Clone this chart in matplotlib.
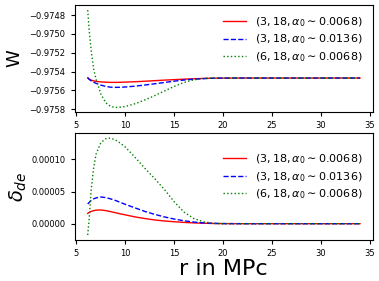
import numpy as np
import matplotlib
matplotlib.use("Agg")
import matplotlib.pyplot as plt

# radius grid (MPc)
r = [6.15, 6.3, 6.5, 6.75, 7.0, 7.5, 8.0, 8.5, 9.0, 9.5, 10, 11, 12, 13, 14,
     15, 16, 17, 18, 19, 20, 22, 25, 28, 31, 34.0]

labels = [r'$(3, 18, \alpha_0 \sim 0.0068)$',
          r'$(3, 18, \alpha_0 \sim 0.0136)$',
          r'$(6, 18, \alpha_0 \sim 0.0068)$']

# equation of state W
W_a = [-0.975465, -0.975478, -0.975490, -0.975498, -0.975503, -0.975509,
       -0.975512, -0.975514, -0.975514, -0.975513, -0.975511, -0.975507,
       -0.975502, -0.975496, -0.975490, -0.975485, -0.975480, -0.975476,
       -0.975472, -0.975470, -0.975469, -0.975468, -0.975468, -0.975468,
       -0.975468, -0.975468]
W_b = [-0.975465, -0.975482, -0.975498, -0.975512, -0.975524, -0.975543,
       -0.975557, -0.975565, -0.975567, -0.975566, -0.975563, -0.975554,
       -0.975542, -0.975529, -0.975515, -0.975501, -0.975489, -0.975480,
       -0.975474, -0.975470, -0.975468, -0.975468, -0.975468, -0.975468,
       -0.975468, -0.975468]
W_c = [-0.974747, -0.974960, -0.975170, -0.975370, -0.975480, -0.975640,
       -0.975730, -0.975770, -0.975780, -0.975777, -0.975770, -0.975740,
       -0.975700, -0.975655, -0.975605, -0.975557, -0.975515, -0.975487,
       -0.975473, -0.975468, -0.975467, -0.975468, -0.975468, -0.975468,
       -0.975468, -0.975468]

# density contrast delta_de (units of 1e-5)
d_a = [1.6, 1.75, 1.9, 2.02, 2.1, 2.13, 2.03, 1.87, 1.7, 1.52, 1.37, 1.05,
       0.8, 0.58, 0.42, 0.3, 0.2, 0.12, 0.07, 0.03, 0.01, 0, 0, 0, 0, 0]
d_b = [3.06, 3.3, 3.6, 3.85, 4.0, 4.15, 4.05, 3.85, 3.6, 3.3, 3.0, 2.45,
       1.9, 1.45, 1.05, 0.72, 0.45, 0.25, 0.12, 0.05, 0.02, 0, 0, 0, 0, 0]
d_c = [-1.75, 0.8, 5.2, 8.6, 10.8, 12.6, 13.2, 13.3, 13.0, 12.5, 11.9, 10.3,
       8.6, 7.0, 5.3, 3.4, 1.8, 0.8, 0.3, 0.05, 0.0, 0, 0, 0, 0, 0]

fig = plt.figure(figsize=(3.79, 2.81), dpi=100)
ax1 = fig.add_axes([0.1966, 0.6025, 0.9834 - 0.1966, 0.982 - 0.6025])
ax2 = fig.add_axes([0.1966, 0.146, 0.9834 - 0.1966, 0.5256 - 0.146])

ax1.plot(r, W_a, 'r-', lw=1, label=labels[0])
ax1.plot(r, W_b, 'b--', lw=1, label=labels[1])
ax1.plot(r, W_c, 'g:', lw=1, label=labels[2])

ax2.plot(r, np.array(d_a) * 1e-5, 'r-', lw=1, label=labels[0])
ax2.plot(r, np.array(d_b) * 1e-5, 'b--', lw=1, label=labels[1])
ax2.plot(r, np.array(d_c) * 1e-5, 'g:', lw=1, label=labels[2])

ax1.set_xlim(4.8, 35.3)
ax2.set_xlim(4.8, 35.3)
ax1.set_ylim(-0.975825, -0.974694)
ax2.set_ylim(-0.0000253, 0.0001404)
ax1.set_yticks([-0.9758, -0.9756, -0.9754, -0.9752, -0.9750, -0.9748])
ax1.set_yticklabels(['\u22120.9758', '\u22120.9756', '\u22120.9754',
                     '\u22120.9752', '\u22120.9750', '\u22120.9748'])
ax2.set_yticks([0, 0.00005, 0.0001])
ax2.set_yticklabels(['0.00000', '0.00005', '0.00010'])

for ax in (ax1, ax2):
    ax.set_xticks([5, 10, 15, 20, 25, 30, 35])
    ax.tick_params(labelsize=6, length=3)

ax1.legend(loc='upper right', frameon=False, fontsize=8,
           handlelength=2.1, labelspacing=0.36)
ax2.legend(loc='upper right', bbox_to_anchor=(1.0, 0.915), frameon=False,
           fontsize=8, handlelength=2.1, labelspacing=0.36)

ax1.set_ylabel('W', fontsize=13)
ax2.set_ylabel(r'$\delta_{de}$', fontsize=14, labelpad=2)
ax2.set_xlabel('r in MPc', fontsize=16, labelpad=0.5)

fig.savefig('out.png', dpi=100)
